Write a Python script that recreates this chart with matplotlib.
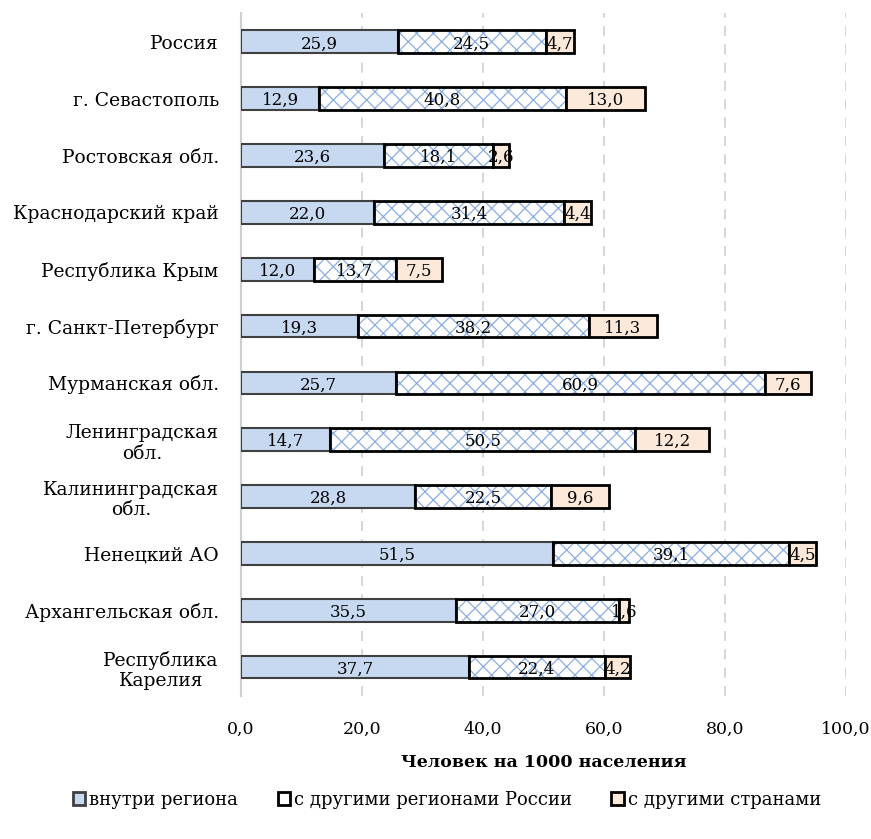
import matplotlib.pyplot as plt
import numpy as np
from matplotlib.patches import Patch

regions = [
    "Россия",
    "г. Севастополь",
    "Ростовская обл.",
    "Краснодарский край",
    "Республика Крым",
    "г. Санкт-Петербург",
    "Мурманская обл.",
    "Ленинградская\nобл.",
    "Калининградская\nобл.",
    "Ненецкий АО",
    "Архангельская обл.",
    "Республика\nКарелия",
]
inside = [25.9, 12.9, 23.6, 22.0, 12.0, 19.3, 25.7, 14.7, 28.8, 51.5, 35.5, 37.7]
other_regions = [24.5, 40.8, 18.1, 31.4, 13.7, 38.2, 60.9, 50.5, 22.5, 39.1, 27.0, 22.4]
abroad = [4.7, 13.0, 2.6, 4.4, 7.5, 11.3, 7.6, 12.2, 9.6, 4.5, 1.6, 4.2]
xticks = [0, 20, 40, 60, 80, 100]

blue = "#c6d9f0"
peach = "#fde9d9"
hatch_blue = "#8aaee0"

plt.rcParams["font.family"] = ["DejaVu Serif"]
plt.rcParams["hatch.linewidth"] = 0.9

fig = plt.figure(figsize=(8.71, 8.39), dpi=100)
ax = fig.add_axes([0.2767, 0.171, 0.6946, 0.813])

y = np.arange(len(regions))
h = 0.4
a = np.array(inside)
b = np.array(other_regions)
c = np.array(abroad)

ax.barh(y, a, height=h, color=blue, edgecolor="#404040", linewidth=1.5, zorder=3)
ax.barh(y, b, left=a, height=h, color="white", edgecolor=hatch_blue,
        hatch="xx", linewidth=0, zorder=3)
ax.barh(y, b, left=a, height=h, color="none", edgecolor="black", linewidth=2, zorder=4)
ax.barh(y, c, left=a + b, height=h, color=peach, edgecolor="black", linewidth=2, zorder=4)

for i in range(len(regions)):
    for left, w in [(0, a[i]), (a[i], b[i]), (a[i] + b[i], c[i])]:
        ax.text(left + w / 2, y[i], f"{w:.1f}".replace(".", ","), ha="center",
                va="center_baseline", fontsize=12, zorder=5)

ax.set_ylim(len(regions) - 0.5, -0.5)
ax.set_xlim(0, 100)
ax.set_yticks(y)
ax.set_yticklabels(regions, fontsize=13.5, multialignment="center")
ax.set_xticks(xticks)
ax.set_xticklabels([f"{v:.1f}".replace(".", ",") for v in xticks], fontsize=12.5)
ax.tick_params(axis="both", length=0)
ax.tick_params(axis="y", pad=16)
ax.tick_params(axis="x", pad=18)
ax.grid(axis="x", color="#d0d0d0", linestyle=(0, (6, 5)), linewidth=1.2, zorder=0)
for s in ["top", "right", "bottom"]:
    ax.spines[s].set_visible(False)
ax.spines["left"].set_color("#d0d0d0")
ax.spines["left"].set_linewidth(1.5)
ax.set_xlabel("Человек на 1000 населения", fontsize=12.5, fontweight="bold", labelpad=12)

handles = [
    Patch(facecolor=blue, edgecolor="#404040", linewidth=2),
    Patch(facecolor="white", edgecolor="black", linewidth=2),
    Patch(facecolor=peach, edgecolor="black", linewidth=2),
]
labels = ["внутри региона", "с другими регионами России", "с другими странами"]
fig.legend(handles, labels, loc="center", bbox_to_anchor=(0.513, 0.047), ncol=3,
           frameon=False, fontsize=13, handlelength=0.7, handleheight=0.7,
           handletextpad=0.2, columnspacing=2.2)

fig.savefig("out.png", dpi=100)
